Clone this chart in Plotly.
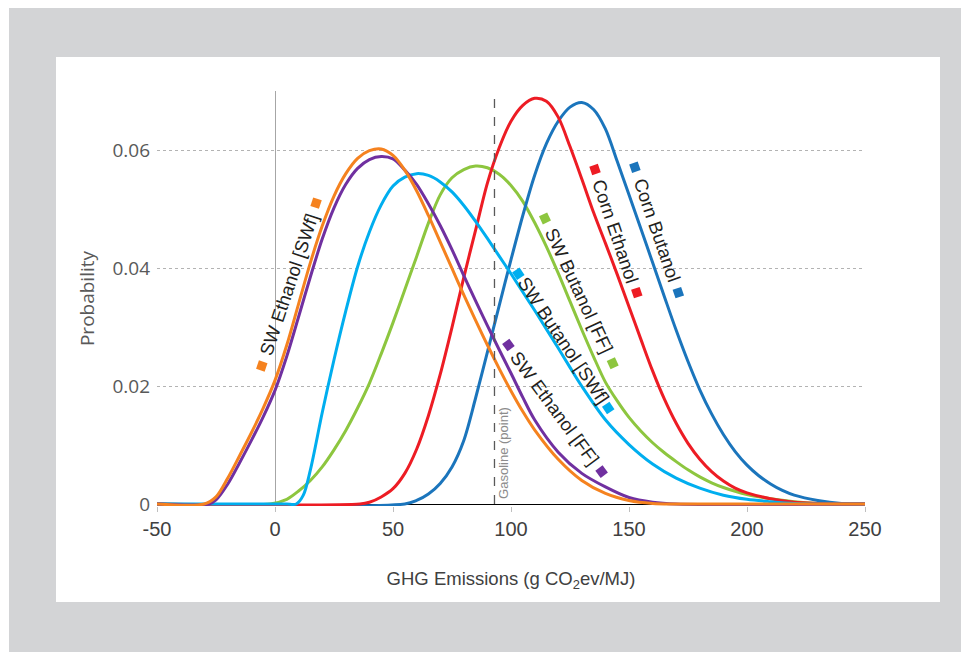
import plotly.graph_objects as go

# ---------------- data ----------------
X_TICKS = [-50, 0, 50, 100, 150, 200, 250]
X_TICK_TEXT = ["-50", "0", "50", "100", "150", "200", "250"]
Y_TICKS = [0, 0.02, 0.04, 0.06]
Y_TICK_TEXT = ["0", "0.02", "0.04", "0.06"]
GASOLINE_X = 93

# SW Ethanol [SWf]  (orange)
swf_eth_x = [-50, -30, -25, -20, -15, -10, -5, 0, 5, 10, 15, 20, 25, 30, 35, 40, 45, 50, 55, 60, 65,
             70, 75, 80, 85, 90, 95, 100, 105, 110, 120, 130, 140, 150, 160, 170, 250]
swf_eth_y = [0, 0, 0.0012, 0.0044, 0.0082, 0.0121, 0.0163, 0.0210, 0.0270, 0.0340, 0.0410, 0.0472,
             0.0523, 0.0561, 0.0587, 0.0600, 0.0603, 0.0592, 0.0567, 0.0532, 0.0490, 0.0445, 0.0400,
             0.0355, 0.0312, 0.0270, 0.0230, 0.0192, 0.0157, 0.0126, 0.0076, 0.0040, 0.0018, 0.0006,
             0.0001, 0, 0]

# SW Ethanol [FF]  (purple)
ff_eth_x = [-50, -28, -25, -20, -15, -10, -5, 0, 5, 10, 15, 20, 25, 30, 35, 40, 45, 50, 55, 60, 65,
            70, 75, 80, 85, 90, 95, 100, 105, 110, 120, 130, 140, 150, 160, 170, 250]
ff_eth_y = [0, 0, 0.0007, 0.0034, 0.0070, 0.0108, 0.0148, 0.0193, 0.0251, 0.0318, 0.0386, 0.0450,
            0.0503, 0.0543, 0.0570, 0.0585, 0.0590, 0.0586, 0.0567, 0.0543, 0.0510, 0.0473, 0.0432,
            0.0388, 0.0345, 0.0303, 0.0262, 0.0222, 0.0181, 0.0143, 0.0088, 0.0052, 0.0029, 0.0011,
            0.0003, 0, 0]

# SW Butanol [SWf]  (light blue)
swf_but_x = [-50, 0, 5, 9, 12, 15, 20, 25, 30, 35, 40, 45, 50, 55, 60, 65, 70, 75, 80, 85, 90, 95,
             100, 105, 110, 115, 120, 125, 130, 140, 150, 160, 170, 180, 190, 200, 210, 220, 230, 250]
swf_but_y = [0, 0, 0, 0, 0.0015, 0.0058, 0.0155, 0.0245, 0.0328, 0.0403, 0.0462, 0.0508, 0.0540,
             0.0555, 0.0561, 0.0558, 0.0547, 0.0530, 0.0507, 0.0480, 0.0451, 0.0421, 0.0391, 0.0360,
             0.0329, 0.0297, 0.0265, 0.0232, 0.0200, 0.0143, 0.0101, 0.0068, 0.0044, 0.0027, 0.0015,
             0.0008, 0.0004, 0.0001, 0, 0]

# SW Butanol [FF]  (green)
ff_but_x = [-50, -2, 5, 10, 15, 20, 25, 30, 35, 40, 45, 50, 55, 60, 65, 70, 75, 80, 85, 90, 95, 100,
            105, 110, 115, 120, 125, 130, 135, 140, 145, 150, 155, 160, 165, 170, 175, 180, 185, 190,
            200, 210, 220, 230, 240, 250]
ff_but_y = [0, 0, 0.0008, 0.0022, 0.0040, 0.0063, 0.0092, 0.0125, 0.0163, 0.0205, 0.0255, 0.0308,
            0.0364, 0.0420, 0.0477, 0.0525, 0.0554, 0.0568, 0.0574, 0.0571, 0.0560, 0.0541, 0.0514,
            0.0478, 0.0437, 0.0392, 0.0344, 0.0296, 0.0250, 0.0207, 0.0175, 0.0147, 0.0124, 0.0104,
            0.0087, 0.0072, 0.0058, 0.0046, 0.0036, 0.0028, 0.0016, 0.0009, 0.0004, 0.0001, 0, 0]

# Corn Ethanol  (red)
corn_eth_x = [-50, 36, 40, 45, 50, 55, 60, 65, 70, 75, 80, 85, 90, 95, 100, 105, 110, 115, 120, 125,
              130, 135, 140, 145, 150, 155, 160, 165, 170, 175, 180, 185, 190, 195, 200, 210, 220,
              230, 240, 250]
corn_eth_y = [0, 0, 0.0003, 0.0012, 0.0026, 0.0052, 0.0093, 0.0150, 0.0220, 0.0300, 0.0385, 0.0465,
              0.0545, 0.0605, 0.0650, 0.0677, 0.0689, 0.0684, 0.0657, 0.0607, 0.0552, 0.0495, 0.0443,
              0.0390, 0.0335, 0.0280, 0.0226, 0.0178, 0.0137, 0.0103, 0.0076, 0.0055, 0.0039, 0.0027,
              0.0019, 0.0009, 0.0003, 0.0001, 0, 0]

# Corn Butanol  (blue)
corn_but_x = [-50, 55, 60, 65, 70, 75, 80, 85, 90, 95, 100, 105, 110, 115, 120, 125, 130, 135, 140,
              145, 150, 155, 160, 165, 170, 175, 180, 185, 190, 195, 200, 205, 210, 215, 220, 230, 240,
              250]
corn_but_y = [0, 0, 0.0006, 0.0017, 0.0035, 0.0063, 0.0108, 0.0180, 0.0258, 0.0337, 0.0415, 0.0490,
              0.0558, 0.0612, 0.0650, 0.0674, 0.0682, 0.0670, 0.0637, 0.0582, 0.0525, 0.0468, 0.0410,
              0.0352, 0.0295, 0.0242, 0.0194, 0.0153, 0.0118, 0.0089, 0.0066, 0.0048, 0.0034, 0.0023,
              0.0015, 0.0006, 0.0001, 0]

# curve labels: text, the two end-marker positions (data units), rotation
label_text = ["SW Butanol [FF]", "Corn Butanol", "Corn Ethanol", "SW Butanol [SWf]",
              "SW Ethanol [FF]", "SW Ethanol [SWf]"]
label_x0 = [114.4, 152.5, 135.6, 103.1, 98.9, -5.6]
label_y0 = [0.0485, 0.0572, 0.0568, 0.0391, 0.0270, 0.02344]
label_x1 = [143.1, 170.9, 153.3, 141.2, 138.4, 17.4]
label_y1 = [0.0239, 0.0359, 0.0359, 0.0163, 0.0055, 0.0511]
label_angle = [65, 71, 71.3, 56.2, 53.6, -71.5]

# ---------------- styling ----------------
COLORS = ["#8dc63f", "#1b75bc", "#ed1c24", "#00aeef", "#7030a0", "#f5821f"]
series = [(ff_but_x, ff_but_y), (corn_but_x, corn_but_y), (corn_eth_x, corn_eth_y),
          (swf_but_x, swf_but_y), (ff_eth_x, ff_eth_y), (swf_eth_x, swf_eth_y)]

BODY = 8                      # default page margin of the html body
PAGE_W, PAGE_H = 969, 652
W, H = PAGE_W - BODY, PAGE_H - BODY
PLOT_X0, PLOT_X1, PLOT_Y0, PLOT_Y1 = 157, 865, 91, 506   # page pixels of the plot area
L, T = PLOT_X0 - BODY, PLOT_Y0 - BODY
R, B = W - (PLOT_X1 - BODY), H - (PLOT_Y1 - BODY)
PW, PH = PLOT_X1 - PLOT_X0, PLOT_Y1 - PLOT_Y0
Y_MIN, Y_MAX = -0.00034, 0.07014

LABEL_FONT = "Liberation Sans, Arial, sans-serif"
REGULAR = "Liberation Sans, Arial, sans-serif"


def paper_x(px):
    return (px - PLOT_X0) / PW


def paper_y(py):
    return (PLOT_Y1 - py) / PH


fig = go.Figure()

for (xs, ys), col, name in zip(series, COLORS, label_text):
    fig.add_trace(go.Scatter(x=xs, y=ys, mode="lines", name=name,
                             line=dict(color=col, width=3, shape="spline", smoothing=0.9),
                             hoverinfo="skip", showlegend=False))

for i, col in enumerate(COLORS):
    fig.add_trace(go.Scatter(x=[label_x0[i], label_x1[i]], y=[label_y0[i], label_y1[i]],
                             mode="markers", showlegend=False, hoverinfo="skip",
                             marker=dict(symbol="square", size=9, color=col,
                                         angle=label_angle[i])))
    fig.add_annotation(x=(label_x0[i] + label_x1[i]) / 2, y=(label_y0[i] + label_y1[i]) / 2,
                       xref="x", yref="y", text=label_text[i], showarrow=False,
                       textangle=label_angle[i], xanchor="center", yanchor="middle",
                       font=dict(family=LABEL_FONT, size=18.5, color="#231f20"))

# gasoline reference line and label
fig.add_shape(type="line", xref="x", yref="y", x0=GASOLINE_X, x1=GASOLINE_X, y0=0, y1=Y_MAX,
              line=dict(color="#595959", width=1.3, dash="dash"))
fig.add_annotation(x=GASOLINE_X + 3.8, y=0.0006, xref="x", yref="y", text="Gasoline (point)",
                   showarrow=False, textangle=-90, xanchor="center", yanchor="bottom",
                   font=dict(family=REGULAR, size=13, color="#8c8c8c"))

# page frame: grey band with white panel
fig.add_shape(type="rect", xref="paper", yref="paper", layer="below", line_width=0,
              fillcolor="#d3d4d6", x0=paper_x(9), x1=paper_x(PAGE_W + 5),
              y0=paper_y(PAGE_H + 5), y1=paper_y(5))
fig.add_shape(type="rect", xref="paper", yref="paper", layer="below", line_width=0,
              fillcolor="#ffffff", x0=paper_x(56), x1=paper_x(940), y0=paper_y(602), y1=paper_y(57))

fig.update_layout(
    width=W, height=H, margin=dict(l=L, r=R, t=T, b=B, pad=0),
    paper_bgcolor="#ffffff", plot_bgcolor="#ffffff", showlegend=False,
    xaxis=dict(range=[-50, 250], tickvals=X_TICKS, ticktext=X_TICK_TEXT, showgrid=False,
               zeroline=True, zerolinecolor="#a6a6a6", zerolinewidth=1,
               ticks="outside", ticklen=5, tickcolor="#bfbfbf", showline=False,
               tickfont=dict(family=REGULAR, size=20, color="#404040"),
               title=dict(text="GHG Emissions (g CO<sub>2</sub>ev/MJ)", standoff=33,
                          font=dict(family=REGULAR, size=18.5, color="#404040"))),
    yaxis=dict(range=[Y_MIN, Y_MAX], tickvals=Y_TICKS, ticktext=Y_TICK_TEXT,
               showgrid=True, gridcolor="#b3b3b3", gridwidth=1, griddash="dot",
               zeroline=True, zerolinecolor="#000000", zerolinewidth=1.3,
               ticks="", showline=False, ticklabelstandoff=6,
               tickfont=dict(family="Open Sans, sans-serif", size=19, color="#595959"),
               title=dict(text="Probability", standoff=12,
                          font=dict(family="Open Sans, sans-serif", size=19, color="#595959"))),
)

fig.write_html("out.html")
